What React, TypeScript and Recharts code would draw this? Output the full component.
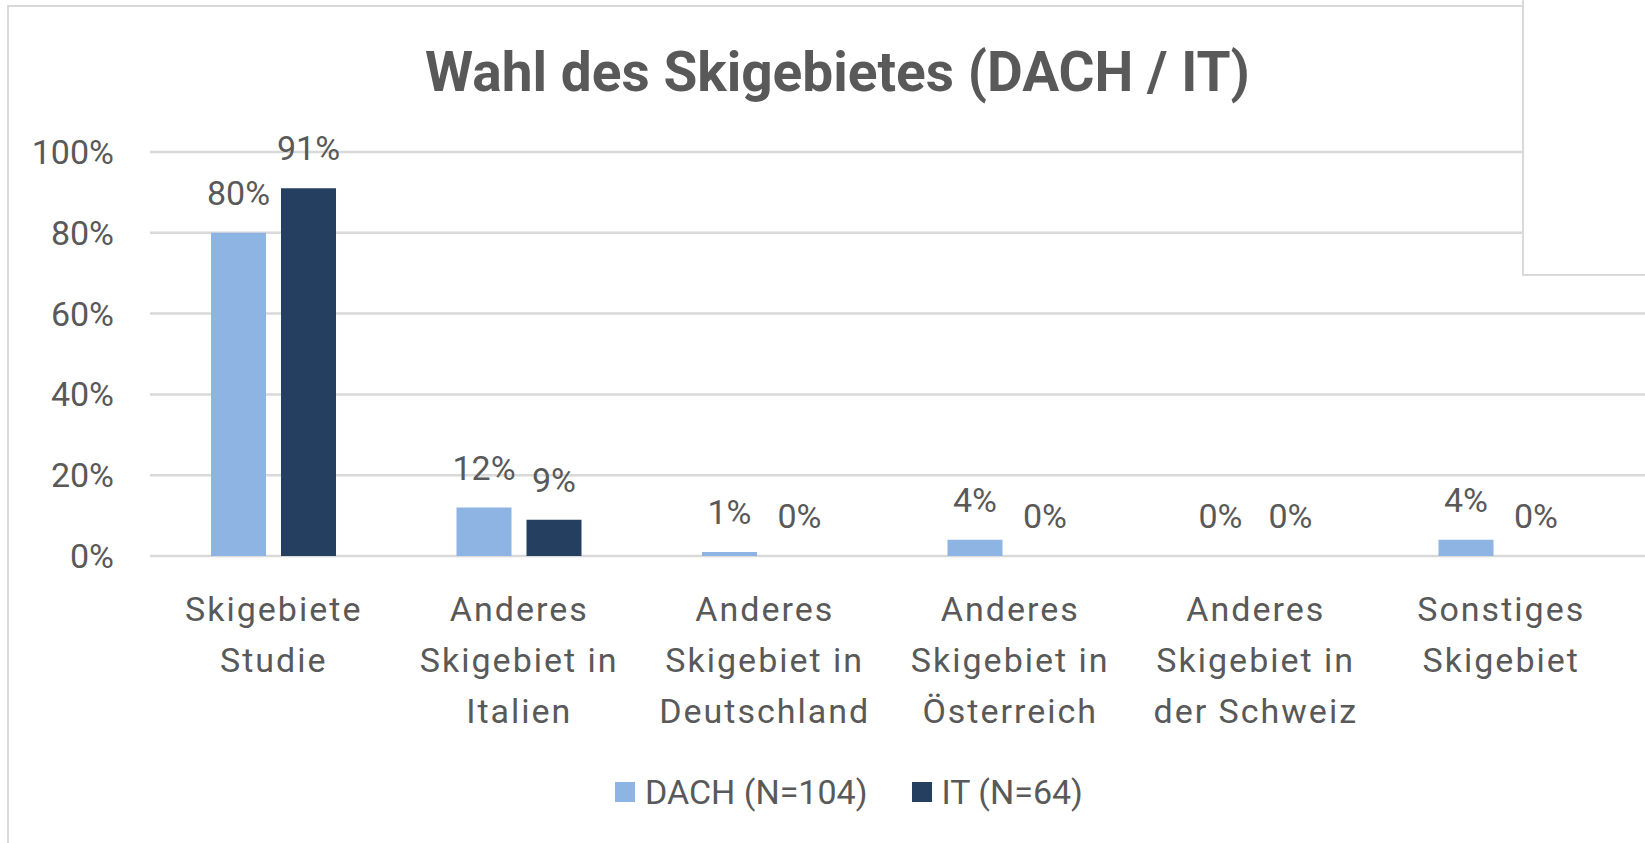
import { Bar, BarChart, CartesianGrid, LabelList, Legend, XAxis, YAxis } from "recharts";

const categories = [
  "Skigebiete Studie",
  "Anderes Skigebiet in Italien",
  "Anderes Skigebiet in Deutschland",
  "Anderes Skigebiet in Österreich",
  "Anderes Skigebiet in der Schweiz",
  "Sonstiges Skigebiet",
];
const tickLines = [
  ["Skigebiete", "Studie"],
  ["Anderes", "Skigebiet in", "Italien"],
  ["Anderes", "Skigebiet in", "Deutschland"],
  ["Anderes", "Skigebiet in", "Österreich"],
  ["Anderes", "Skigebiet in", "der Schweiz"],
  ["Sonstiges", "Skigebiet"],
];
const dachValues = [80, 12, 1, 4, 0, 4];
const itValues = [91, 9, 0, 0, 0, 0];
const yTicks = [0, 20, 40, 60, 80, 100];
const seriesNames = ["DACH (N=104)", "IT (N=64)"];
const title = "Wahl des Skigebietes (DACH / IT)";

const data = categories.map((category, i) => ({
  category,
  dach: dachValues[i],
  it: itValues[i],
}));

const TEXT = "#595959";
const GRID = "#d9d9d9";
const FONT = "Roboto, 'Noto Sans', sans-serif";

function CategoryTick(props: any) {
  const { x, y, payload } = props;
  const lines = tickLines[payload.index] ?? [String(payload.value)];
  return (
    <text x={x} y={y} textAnchor="middle" fill={TEXT} fontSize={34} fontFamily={FONT} style={{ letterSpacing: 2 }}>
      {lines.map((line, i) => (
        <tspan key={i} x={x} y={y + 65 + i * 51}>
          {line}
        </tspan>
      ))}
    </text>
  );
}

function LegendContent(props: any) {
  const items = props.payload ?? [];
  return (
    <div style={{ display: "flex", alignItems: "center", paddingLeft: 615, fontFamily: FONT, fontSize: 34, color: TEXT }}>
      {items.map((item: any, i: number) => (
        <div key={i} style={{ display: "flex", alignItems: "center", marginRight: 44 }}>
          <span style={{ width: 20, height: 20, background: item.color, marginRight: 10, display: "inline-block" }} />
          <span style={{ lineHeight: "40px" }}>{item.value}</span>
        </div>
      ))}
    </div>
  );
}

// zero bars still need their "0%" label, so give them a hair of height
const tinyBar = 0.01;

export default function App() {
  return (
    <div style={{ position: "fixed", left: 0, top: 0, width: 1645, height: 843, overflow: "hidden", background: "#fff", fontFamily: FONT }}>
      <div style={{ position: "absolute", left: 7, top: 5, width: 1700, height: 900, borderTop: `2px solid ${GRID}`, borderLeft: `2px solid ${GRID}` }} />
      <svg width={1645} height={120} style={{ position: "absolute", left: 0, top: 0 }}>
        <text x={837.5} y={90.7} textAnchor="middle" fill={TEXT} fontSize={55} fontWeight="bold" fontFamily={FONT}>
          {title}
        </text>
      </svg>
      <div style={{ position: "absolute", left: 0, top: 0 }}>
        <BarChart width={1700} height={843} data={data} margin={{ top: 152, right: 0, bottom: 87, left: 0 }} barSize={55} barGap={15}>
          <CartesianGrid vertical={false} stroke={GRID} strokeWidth={2.5} />
          <XAxis
            dataKey="category"
            height={200}
            padding={{ left: 1, right: 76 }}
            interval={0}
            axisLine={false}
            tickLine={false}
            tickSize={0}
            tickMargin={0}
            tick={<CategoryTick />}
          />
          <YAxis
            width={150}
            domain={[0, 100]}
            ticks={yTicks}
            tickFormatter={(v) => `${v}%`}
            axisLine={false}
            tickLine={false}
            tickSize={0}
            tickMargin={36}
            tick={{ fill: TEXT, fontSize: 34, fontFamily: FONT }}
          />
          <Legend layout="horizontal" verticalAlign="middle" align="center" wrapperStyle={{ top: 772, left: 0, width: 1645 }} content={<LegendContent />} />
          <Bar dataKey="dach" name={seriesNames[0]} fill="#8eb4e3" minPointSize={tinyBar} isAnimationActive={false}>
            <LabelList dataKey="dach" position="top" offset={28} formatter={(v: any) => `${v}%`} fill={TEXT} fontSize={34} fontFamily={FONT} />
          </Bar>
          <Bar dataKey="it" name={seriesNames[1]} fill="#243f60" minPointSize={tinyBar} isAnimationActive={false}>
            <LabelList dataKey="it" position="top" offset={28} formatter={(v: any) => `${v}%`} fill={TEXT} fontSize={34} fontFamily={FONT} />
          </Bar>
        </BarChart>
      </div>
      <div style={{ position: "absolute", left: 1522, top: -4, width: 200, height: 276, border: `2px solid ${GRID}`, background: "#fff" }} />
    </div>
  );
}
